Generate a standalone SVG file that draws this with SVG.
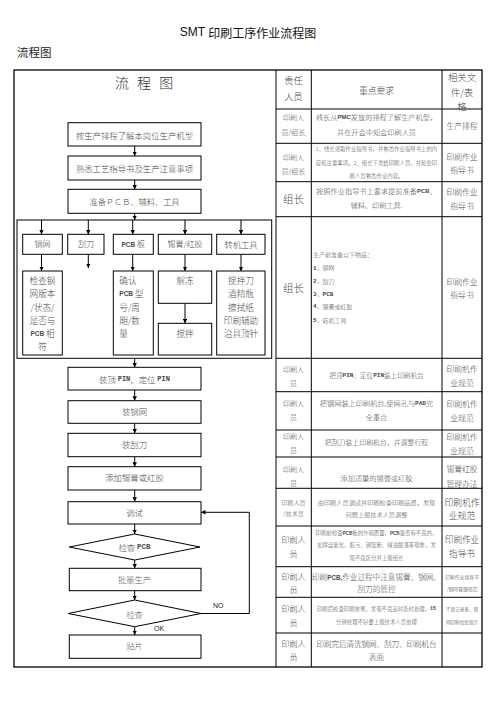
<svg xmlns="http://www.w3.org/2000/svg" width="496" height="702" viewBox="0 0 496 702">
<defs>
<marker id="ah" viewBox="0 0 8 8" refX="8" refY="4" markerWidth="4.5" markerHeight="4.5" markerUnits="userSpaceOnUse" orient="auto"><path d="M0,0 L8,4 L0,8 z" fill="#000"/></marker>
</defs>
<style>
text{font-family:'Noto Sans CJK SC','Noto Sans CJK JP',sans-serif;fill:#4a4a4a;font-weight:300;dominant-baseline:central}
.m{text-anchor:middle}
.b{fill:#fff;stroke:#000;stroke-width:1}
.ln{stroke:#000;stroke-width:1;fill:none}
.ar{stroke:#000;stroke-width:1;fill:none;marker-end:url(#ah)}
.f{font-size:8.4px}
.g{font-size:8.6px}
.r{font-size:7.2px}
.p{font-size:7px}
.q{font-size:7.8px}
.s{font-size:5.4px}
.lat{font-family:'Liberation Mono',monospace;font-weight:bold}
.sa{font-family:'Liberation Sans',Arial,sans-serif;font-weight:bold}
</style>
<rect width="496" height="702" fill="#fff"/>
<text x="248" y="32" class="m" style="font-size:12px;fill:#111;font-weight:400"><tspan style="font-family:'Liberation Sans',sans-serif">SMT </tspan>印刷工序作业流程图</text>
<text x="17" y="52" style="font-size:11.5px;fill:#222;font-weight:400">流程图</text>

<g id="table">
<rect x="14" y="70" width="468" height="597" class="ln" style="stroke-width:1.3"/>
<path class="ln" d="M276,70V667M311.3,70V667M442,70V667M276,109H482M276,143.3H482M276,181.7H482M276,216.7H482M276,358.3H482M276,391.7H482M276,430H482M276,457H482M276,488.3H482M276,526H482M276,566.7H482M276,597.3H482M276,633H482"/>
<text x="122 144 166.3" y="81.5" class="m" style="font-size:14px;fill:#333">流程图</text>
<text x="293.5" y="80" class="m" style="font-size:9.2px">责任</text>
<text x="293.5" y="96" class="m" style="font-size:9.2px">人员</text>
<text x="376.5" y="90" class="m" style="font-size:8.8px">重点要求</text>
<text x="462" y="77" class="m" style="font-size:9.4px">相关文</text>
<text x="462" y="91.5" class="m" style="font-size:9.4px">件/表</text>
<text x="462" y="106" class="m" style="font-size:9.4px">格</text>
</g>

<g id="rows">
<text x="293.5" y="117" class="m p">印刷人</text>
<text x="293.5" y="132" class="m p">员/组长</text>
<text x="376.5" y="117" class="m r">线长从<tspan class="sa" style="font-size:6px">PMC</tspan>发放的排程了解生产机型，</text>
<text x="376.5" y="132" class="m r">并在开会中知会印刷人员</text>
<text x="462" y="125" class="m q">生产排程</text>

<text x="293.5" y="157" class="m p">印刷人</text>
<text x="293.5" y="171" class="m p">员/组长</text>
<text x="376.5" y="148.5" class="m s">1、线长领取作业指导书，并熟悉作业指导书上的内</text>
<text x="376.5" y="162.5" class="m s">容和注意事项。2、组长下发给印刷人员，并知会印</text>
<text x="376.5" y="176" class="m s">刷人员熟悉作业内容。</text>
<text x="462" y="156" class="m q">印刷作业</text>
<text x="462" y="169" class="m q">指导书</text>

<text x="293.5" y="198.5" class="m" style="font-size:10.5px">组长</text>
<text x="376.5" y="191" class="m r">按照作业指导书上要求提前准备<tspan class="sa" style="font-size:6px">PCB</tspan>、</text>
<text x="376.5" y="205" class="m r">辅料、印刷工具.</text>
<text x="462" y="191" class="m q">印刷作业</text>
<text x="462" y="205" class="m q">指导书</text>

<text x="293.5" y="287" class="m" style="font-size:10.5px">组长</text>
<text x="313" y="254.5" style="font-size:6px">生产前准备以下物品：</text>
<text x="313" y="267.5" style="font-size:6px"><tspan class="lat">1、</tspan>钢网</text>
<text x="313" y="281" style="font-size:6px"><tspan class="lat">2、</tspan>刮刀</text>
<text x="313" y="293.5" style="font-size:6px"><tspan class="lat">3、PCB</tspan></text>
<text x="313" y="306" style="font-size:6px"><tspan class="lat">4、</tspan>锡膏或红胶</text>
<text x="313" y="320" style="font-size:6px"><tspan class="lat">5、</tspan>转机工具</text>
<text x="462" y="281" class="m q">印刷作业</text>
<text x="462" y="294" class="m q">指导书</text>

<text x="293.5" y="368.5" class="m p">印刷人</text>
<text x="293.5" y="382.5" class="m p">员</text>
<text x="376.5" y="375" class="m" style="font-size:6.6px">把顶<tspan class="lat" style="font-size:6px">PIN</tspan>、定位<tspan class="lat" style="font-size:6px">PIN</tspan>装上印刷机台</text>
<text x="462" y="368.5" class="m q">印刷机作</text>
<text x="462" y="382.5" class="m q">业规范</text>

<text x="293.5" y="403" class="m p">印刷人</text>
<text x="293.5" y="417" class="m p">员</text>
<text x="376.5" y="403" class="m r">把钢网装上印刷机台,使网孔与<tspan class="lat" style="font-size:6px">PAD</tspan>完</text>
<text x="376.5" y="417" class="m r">全重合</text>
<text x="462" y="403" class="m q">印刷机作</text>
<text x="462" y="417" class="m q">业规范</text>

<text x="293.5" y="436" class="m p">印刷人</text>
<text x="293.5" y="450" class="m p">员</text>
<text x="376.5" y="442" class="m" style="font-size:6.9px">把刮刀装上印刷机台，并调整行程</text>
<text x="462" y="436" class="m q">印刷机作</text>
<text x="462" y="450" class="m q">业规范</text>

<text x="293.5" y="468.5" class="m p">印刷人</text>
<text x="293.5" y="483" class="m p">员</text>
<text x="376.5" y="477.5" class="m r">添加适量的锡膏或红胶</text>
<text x="462" y="468.5" class="m q">锡膏红胶</text>
<text x="462" y="483" class="m q">管理办法</text>

<text x="293.5" y="502.5" class="m" style="font-size:6px">印刷人员</text>
<text x="293.5" y="513.5" class="m" style="font-size:6px">/技术员</text>
<text x="376.5" y="502.5" class="m" style="font-size:6.2px">由印刷人员调试并印刷检查印刷品质，发现</text>
<text x="376.5" y="514" class="m" style="font-size:6.2px">问题上报技术人员调整</text>
<text x="462" y="502" class="m" style="font-size:8.8px">印刷机作</text>
<text x="462" y="515" class="m" style="font-size:8.8px">业规范</text>

<text x="293.5" y="539" class="m" style="font-size:8px">印刷人</text>
<text x="293.5" y="553" class="m" style="font-size:8px">员</text>
<text x="376.5" y="532.5" class="m s">印刷前检查<tspan class="sa" style="font-size:4.6px">PCB</tspan>板的外观质量，<tspan class="sa" style="font-size:4.6px">PCB</tspan>是否有不良的，</text>
<text x="376.5" y="545" class="m s">如焊盘氧化、脏污、铜箔断、绿油脱落等现象，发</text>
<text x="376.5" y="558" class="m s">现不良区分并上报组长</text>
<text x="462" y="539" class="m" style="font-size:8.6px">印刷作业</text>
<text x="462" y="553" class="m" style="font-size:8.6px">指导书</text>

<text x="293.5" y="576.5" class="m" style="font-size:8px">印刷人</text>
<text x="293.5" y="589" class="m" style="font-size:8px">员</text>
<text x="376.5" y="576.5" class="m" style="font-size:7.6px">印刷<tspan class="sa" style="font-size:6.3px">PCB,</tspan>作业过程中注意锡膏、钢网、</text>
<text x="376.5" y="588.5" class="m" style="font-size:7.6px">刮刀的管控</text>
<text x="462" y="576.5" class="m" style="font-size:4.8px">印刷作业指导书</text>
<text x="462" y="588.5" class="m" style="font-size:4.8px">/钢网管理规范</text>

<text x="293.5" y="608.5" class="m" style="font-size:8px">印刷人</text>
<text x="293.5" y="622" class="m" style="font-size:8px">员</text>
<text x="376.5" y="608.5" class="m s">印刷后检查印刷效果，发现不良品时及时处理，<tspan class="lat" style="font-size:5px">15</tspan></text>
<text x="376.5" y="621.5" class="m s">分钟处理不好要上报技术人员处理</text>
<text x="462" y="608.5" class="m" style="font-size:4.6px">不良记录表、钢</text>
<text x="462" y="621.5" class="m" style="font-size:4.6px">网印刷检验指示</text>

<text x="293.5" y="643" class="m" style="font-size:8px">印刷人</text>
<text x="293.5" y="656" class="m" style="font-size:8px">员</text>
<text x="376.5" y="643" class="m" style="font-size:7.5px">印刷完后清洗钢网、刮刀、印刷机台</text>
<text x="376.5" y="656" class="m" style="font-size:7.5px">表面</text>
</g>

<g id="group-prep">
<rect x="17" y="220" width="254.7" height="138.3" class="ln"/>
</g>

<g id="connectors">
<path class="ar" d="M134.7,146V156"/>
<path class="ar" d="M134.7,180V189.3"/>
<path class="ar" d="M134.7,213.3V220"/>
<path class="ar" d="M41.5,220V234.3"/>
<path class="ar" d="M88.3,220V234.3"/>
<path class="ar" d="M132.7,220V234.3"/>
<path class="ar" d="M185,220V234.3"/>
<path class="ar" d="M241,220V234.3"/>
<path class="ar" d="M41.5,254.3V271"/>
<path class="ar" d="M88.3,254.3V268"/>
<path class="ar" d="M132.7,254.3V271"/>
<path class="ar" d="M185,254.3V271"/>
<path class="ar" d="M241,254.3V271"/>
<path class="ar" d="M185,303.3V323.3"/>
<path class="ar" d="M134.7,358.3V367.3"/>
<path class="ar" d="M134.7,390V400.7"/>
<path class="ar" d="M134.7,423.3V433.3"/>
<path class="ar" d="M134.7,456.7V466.7"/>
<path class="ar" d="M134.7,490V501.7"/>
<path class="ar" d="M134.7,524V534"/>
<path class="ar" d="M134.7,560V568.3"/>
<path class="ar" d="M134.7,590.7V600"/>
<path class="ar" d="M134.7,626.7V635"/>
<path class="ar" d="M201,613.5H249.3V512.3H201"/>
<text x="213" y="605" style="font-family:'Liberation Sans',sans-serif;font-size:7px;fill:#222;font-weight:400">NO</text>
<text x="154" y="628" style="font-family:'Liberation Sans',sans-serif;font-size:7px;fill:#222;font-weight:400">OK</text>
</g>

<g id="n1"><rect x="68" y="122.7" width="133" height="23.3" class="b"/><text x="134.5" y="134.5" class="m f">按生产排程了解本岗位生产机型</text></g>
<g id="n2"><rect x="68" y="156" width="133" height="24" class="b"/><text x="134.5" y="168" class="m f">熟悉工艺指导书及生产注意事项</text></g>
<g id="n3"><rect x="68" y="189.3" width="133" height="24" class="b"/><text x="134.5" y="201.3" class="m" style="font-size:8.2px">准备ＰＣＢ、辅料、工具</text></g>

<g id="c1"><rect x="22.7" y="234.3" width="39.6" height="20" class="b"/><text x="42.5" y="243.5" class="m" style="font-size:8px">钢网</text></g>
<g id="c2"><rect x="67.7" y="234.3" width="36.3" height="20" class="b"/><text x="86" y="243.5" class="m" style="font-size:8px">刮刀</text></g>
<g id="c3"><rect x="113.3" y="234.3" width="40" height="20" class="b"/><text x="133.3" y="243.5" class="m" style="font-size:8px"><tspan class="sa" style="font-size:6.5px">PCB </tspan>板</text></g>
<g id="c4"><rect x="158.3" y="234.3" width="53.4" height="20" class="b"/><text x="185" y="243.5" class="m" style="font-size:8px">锡膏/红胶</text></g>
<g id="c5"><rect x="216.7" y="234.3" width="48.3" height="20" class="b"/><text x="241" y="243.5" class="m" style="font-size:8.3px">转机工具</text></g>

<g id="d1"><rect x="22.7" y="271" width="39.6" height="84" class="b"/>
<text x="42.5" y="280" class="m g">检查钢</text>
<text x="42.5" y="293.3" class="m g">网版本</text>
<text x="42.5" y="306.5" class="m g">/状态/</text>
<text x="42.5" y="319.7" class="m g">是否与</text>
<text x="42.5" y="333" class="m g"><tspan class="sa" style="font-size:6.5px">PCB </tspan>相</text>
<text x="42.5" y="346" class="m g">符</text></g>
<g id="d3"><rect x="113.3" y="271" width="40" height="84" class="b"/>
<text x="119.3" y="280" class="g">确认</text>
<text x="119.3" y="293.3" class="g"><tspan class="sa" style="font-size:6.5px">PCB </tspan>型</text>
<text x="119.3" y="306.5" class="g">号/周</text>
<text x="119.3" y="319.7" class="g">期/数</text>
<text x="119.3" y="333" class="g">量</text></g>
<g id="d4a"><rect x="158.3" y="271" width="53.4" height="32.3" class="b"/><text x="185" y="280" class="m g">解冻</text></g>
<g id="d4b"><rect x="158.3" y="323.3" width="53.4" height="31.7" class="b"/><text x="185" y="332.5" class="m g">搅拌</text></g>
<g id="d5"><rect x="216.7" y="271" width="48.3" height="84" class="b"/>
<text x="241" y="280" class="m g">搅拌刀</text>
<text x="241" y="293.3" class="m g">酒精瓶</text>
<text x="241" y="306.5" class="m g">擦拭纸</text>
<text x="241" y="319.7" class="m g">印刷辅助</text>
<text x="241" y="333" class="m g">治具顶针</text></g>

<g id="n4"><rect x="68" y="367.3" width="133" height="22.7" class="b"/><text x="134.5" y="378.7" class="m f">装顶 <tspan class="lat" style="font-size:7px">PIN</tspan>、定位 <tspan class="lat" style="font-size:7px">PIN</tspan></text></g>
<g id="n5"><rect x="68" y="400.7" width="133" height="22.6" class="b"/><text x="134.5" y="411" class="m f">装钢网</text></g>
<g id="n6"><rect x="68" y="433.3" width="133" height="23.4" class="b"/><text x="134.5" y="444" class="m f">装刮刀</text></g>
<g id="n7"><rect x="68" y="466.7" width="133" height="23.3" class="b"/><text x="134.5" y="477" class="m f">添加锡膏或红胶</text></g>
<g id="n8"><rect x="68" y="501.7" width="133" height="22.3" class="b"/><text x="134.5" y="512" class="m f">调试</text></g>
<g id="n9"><polygon points="69.3,547 134.7,534 200,547 134.7,560" class="b"/><text x="134.5" y="547" class="m f">检查 <tspan class="lat" style="font-size:7.5px">PCB</tspan></text></g>
<g id="n10"><rect x="69.3" y="568.3" width="131.7" height="22.4" class="b"/><text x="134.5" y="578.5" class="m f" style="fill:#666">批量生产</text></g>
<g id="n11"><polygon points="68.3,613.5 134.7,600 201,613.5 134.7,626.7" class="b"/><text x="134.5" y="614" class="m f" style="fill:#666">检查</text></g>
<g id="n12"><rect x="69.3" y="635" width="131.7" height="23.3" class="b"/><text x="134.5" y="645" class="m f" style="fill:#666">贴片</text></g>
</svg>
